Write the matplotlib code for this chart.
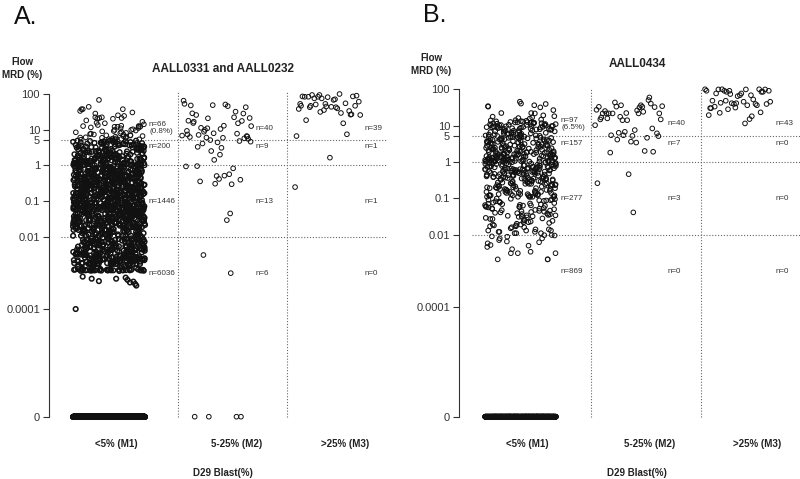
import numpy as np
import matplotlib
matplotlib.use("Agg")
import matplotlib.pyplot as plt
from matplotlib.ticker import NullLocator

plt.rcParams['font.family'] = ['Liberation Sans', 'DejaVu Sans']

W, H = 800, 479
ZERO = 1e-7   # where "0" sits on the log axis

# ---------------- panel A : AALL0331 and AALL0232 ----------------
# Flow MRD (%) values, per D29 marrow group
a_m1_above5 = [67, 43, 37, 37, 33, 37, 28, 24, 21, 25, 20, 20, 22, 22, 21, 15.5, 15, 12, 12, 12,
               11, 12.6, 12.5, 12, 10.2, 9.8, 10.9, 12.8, 14, 13.4, 7.9, 9.8, 8.6, 7.2, 6.5, 5.6,
               5.3, 6.1, 7.5, 8.1, 6.8, 5.9, 5.4, 6.3, 9.1, 7.0, 5.2, 5.8, 6.6, 8.4, 5.5, 6.0, 7.7,
               5.1, 9.4, 6.9, 5.7, 8.9, 6.2, 5.35, 7.3, 5.05, 11.5, 18, 16.5, 30]
a_m1_1to5 = [
    4.8, 1.2, 2.3, 1.05, 3.4, 1.6, 2.9, 1.1, 4.1, 1.4, 2.0, 1.3, 3.7, 1.8, 1.02, 2.6, 4.5, 1.5, 1.15, 2.2,
    1.7, 3.1, 1.25, 4.9, 2.4, 1.08, 1.9, 3.9, 1.35, 2.7, 1.12, 4.3, 1.55, 2.1, 1.01, 3.3, 1.45, 2.5, 1.75, 4.7,
    1.03, 2.8, 1.65, 3.6, 1.22, 2.05, 4.4, 1.38, 1.95, 3.0, 1.18, 2.35, 1.06, 4.0, 1.48, 2.65, 1.28, 3.5, 1.85, 4.6,
    1.09, 2.15, 3.8, 1.32, 1.58, 2.95, 1.04, 4.2, 1.72, 2.45, 1.14, 3.2, 1.42, 1.88, 4.95, 1.24, 2.55, 1.07, 3.45, 1.62,
    2.25, 1.16, 4.05, 1.36, 2.75, 1.52, 1.01, 3.65, 1.82, 2.12, 1.27, 4.55, 1.11, 2.38, 1.68, 3.15, 1.44, 1.92, 4.25, 1.19,
    2.85, 1.06, 3.35, 1.56, 2.02, 1.31, 4.75, 1.78, 1.13, 2.62, 1.41, 3.95, 1.23, 2.18, 1.64, 3.05, 1.02, 4.35, 1.49, 2.48,
    1.17, 3.75, 1.87, 1.29, 2.28, 4.15, 1.05, 1.61, 2.92, 1.34, 3.55, 1.09, 2.08, 1.74, 4.85, 1.21, 2.58, 1.46, 3.25, 1.96,
    1.03, 2.32, 1.54, 4.45, 1.26, 2.78, 1.81, 3.12, 1.12, 1.66, 2.42, 3.85, 1.37, 1.04, 2.22, 4.65, 1.59, 2.98, 1.19, 1.91,
    3.42, 1.08, 1.71, 2.52, 1.33, 4.08, 1.15, 2.68, 1.47, 3.62, 1.01, 1.84, 2.14, 1.25, 4.28, 1.57, 2.88, 1.39, 3.18, 1.07,
    1.98, 4.92, 1.43, 2.36, 1.14, 3.72, 1.69, 1.02, 2.72, 1.28, 4.18, 1.53, 2.04, 1.11, 3.38, 1.77, 2.58, 1.35, 1.06, 3.92]
a_m1_001to1 = [
    .35, .042, .81, .013, .21, .067, .15, .029, .52, .011, .094, .27, .018, .63, .038, .12, .074, .44, .023, .97,
    .056, .19, .016, .71, .031, .11, .048, .33, .014, .88, .062, .24, .021, .41, .083, .13, .035, .58, .019, .17,
    .026, .92, .045, .29, .012, .65, .078, .16, .033, .47, .015, .22, .088, .39, .025, .74, .051, .14, .017, .55,
    .37, .069, .18, .011, .84, .028, .25, .059, .43, .013, .11, .036, .68, .021, .31, .092, .16, .044, .77, .019,
    .014, .53, .072, .23, .032, .96, .047, .13, .012, .36, .085, .61, .024, .19, .057, .45, .016, .28, .039, .12,
    .79, .027, .15, .064, .34, .011, .49, .098, .21, .034, .72, .018, .26, .053, .14, .042, .87, .022, .38, .076,
    .13, .046, .59, .015, .32, .081, .17, .029, .66, .012, .24, .061, .42, .037, .11, .094, .54, .02, .3, .071,
    .023, .83, .055, .2, .014, .39, .089, .15, .031, .62, .017, .27, .049, .93, .026, .12, .066, .46, .013, .22,
    .48, .035, .18, .075, .29, .011, .69, .043, .14, .021, .57, .086, .33, .016, .11, .052, .76, .028, .25, .063,
    .016, .41, .097, .16, .038, .64, .024, .35, .058, .13, .012, .51, .079, .23, .045, .89, .019, .31, .068, .17,
    .73, .03, .12, .054, .44, .015, .21, .083, .37, .022, .95, .041, .15, .011, .28, .073, .56, .034, .19, .047,
    .026, .67, .062, .14, .018, .34, .091, .26, .013, .47, .039, .8, .027, .11, .058, .42, .02, .18, .077, .6,
    .11, .049, .38, .017, .24, .087, .53, .032, .16, .012, .71, .064, .29, .023, .13, .044, .91, .036, .2, .081,
    .019, .45, .07, .22, .014, .58, .037, .12, .095, .32, .025, .75, .051, .17, .011, .39, .066, .27, .029, .86,
    .61, .033, .15, .076, .27, .012, .49, .056, .19, .043, .82, .021, .36, .084, .13, .017, .55, .031, .23, .069,
    .045, .24, .018, .7, .039, .11, .093, .43, .026, .16, .062, .3, .014, .64, .048, .2, .081, .52, .022, .14,
    .31, .072, .12, .028, .57, .015, .26, .054, .85, .035, .17, .011, .4, .089, .21, .041, .67, .024, .13, .059,
    .017, .5, .083, .18, .033, .76, .046, .23, .012, .35, .071, .14, .027, .59, .019, .44, .097, .16, .052, .28,
    .94, .038, .21, .065, .11, .023, .46, .078, .32, .014, .63, .043, .15, .031, .25, .091, .72, .018, .37, .057,
    .13, .029, .54, .068, .19, .011, .42, .086, .27, .048, .79, .016, .34, .061, .12, .036, .6, .025, .22, .074,
    .047, .83, .02, .16, .055, .38, .013, .25, .095, .49, .034, .11, .067, .29, .021, .68, .042, .18, .088, .53,
    .024, .33, .079, .14, .037, .92, .015, .21, .058, .45, .028, .12, .073, .61, .018, .26, .049, .17, .011, .4,
    .65, .031, .13, .084, .3, .019, .56, .044, .23, .012, .36, .069, .15, .026, .77, .053, .2, .039, .11, .093,
    .014, .47, .062, .18, .027, .71, .035, .24, .081, .14, .022, .52, .046, .32, .016, .11, .075, .43, .03, .87,
    .2, .057, .39, .013, .27, .098, .15, .033, .62, .021, .12, .066, .48, .041, .17, .011, .34, .084, .25, .029,
    .073, .16, .025, .55, .048, .22, .015, .81, .036, .13, .092, .41, .019, .28, .063, .11, .044, .69, .023, .19,
    .38, .017, .26, .087, .12, .032, .58, .054, .21, .013, .45, .071, .14, .039, .96, .027, .31, .059, .16, .02,
    .052, .74, .028, .15, .079, .35, .012, .24, .045, .63, .018, .11, .096, .29, .034, .5, .067, .18, .024, .42,
    .13, .041, .85, .064, .2, .016, .37, .088, .26, .03, .14, .055, .57, .021, .33, .077, .12, .043, .73, .011,
    .026, .44, .069, .17, .038, .9, .014, .23, .083, .51, .031, .12, .061, .3, .019, .66, .047, .21, .094, .15,
    .58, .022, .27, .075, .13, .035, .4, .011, .19, .057, .78, .028, .34, .089, .16, .042, .24, .015, .49, .065,
    .037, .14, .092, .32, .017, .54, .049, .22, .026, .71, .063, .11, .033, .43, .081, .18, .012, .28, .054, .97,
    .21, .07, .46, .013, .29, .044, .15, .085, .6, .024, .36, .058, .12, .019, .82, .039, .25, .072, .17, .031,
    .016, .39, .061, .11, .028, .67, .047, .2, .098, .31, .021, .55, .036, .14, .078, .48, .012, .23, .052, .74,
    .33, .029, .16, .087, .52, .014, .26, .064, .41, .034, .12, .018, .63, .045, .19, .093, .37, .023, .13, .069]
a_m1_below001 = [
    .0045, .0021, .0078, .0032, .0018, .0059, .0026, .0093, .0038, .0019, .0066, .0024, .0051, .0029, .0084, .0035, .0017, .0072, .0042, .0022,
    .0055, .0027, .0097, .0033, .0019, .0062, .0041, .0023, .0088, .0036, .0018, .0049, .0028, .0075, .0031, .0021, .0068, .0044, .0025, .0091,
    .0034, .0018, .0057, .0026, .0081, .0039, .0022, .0063, .0047, .0019, .0071, .0029, .0053, .0024, .0095, .0037, .0017, .0061, .0043, .0027,
    .0087, .0032, .0021, .0058, .0035, .0018, .0076, .0046, .0025, .0064, .0031, .0019, .0052, .0083, .0028, .0039, .0022, .0069, .0048, .0026,
    .0019, .0073, .0036, .0023, .0094, .0041, .0027, .0056, .0018, .0065, .0033, .0021, .0079, .0045, .0029, .0052, .0017, .0086, .0038, .0024,
    .0061, .0028, .0043, .0019, .0077, .0034, .0022, .0098, .0049, .0026, .0067, .0031, .0018, .0055, .0039, .0023, .0082, .0044, .0027, .0059,
    .0021, .0089, .0037, .0025, .0063, .0018, .0047, .0032, .0074, .0022, .0054, .0029, .0092, .0041, .0019, .0068, .0035, .0024, .0057, .0028,
    .0042, .0017, .0071, .0033, .0026, .0085, .0048, .0021, .0062, .0036, .0019, .0078, .0044, .0027, .0051, .0023, .0096, .0039, .0018, .0066,
    .0031, .0058, .0022, .0081, .0045, .0019, .0069, .0034, .0025, .0053, .0017, .0087, .0038, .0028, .0064, .0021, .0046, .0032, .0075, .0023,
    .0018, .0052, .0029, .0093, .0041, .0024, .0067, .0035, .0019, .0079, .0047, .0026, .0059, .0021, .0084, .0037, .0023, .0056, .0031, .0018,
    .0072, .0039, .0022, .0061, .0027, .0048, .0019, .0088, .0033, .0025, .0065, .0042, .0018, .0076, .0036, .0021, .0054, .0029, .0097, .0044,
    .0026, .0019, .0063, .0038, .0023, .0082, .0049, .0028, .0057, .0017, .0071, .0034, .0022, .0091, .0043, .0026, .0068, .0031, .0019, .0053,
    .0015, .0014, .0016, .0015, .0014, .0016,
    .0012, .0013, .00118, .00125, .0012, .00122, .00128, .0012, .00115, .0013, .00121, .00126, .0012, .00119,
    .00124, .0013, .0012, .00117, .00127, .00123, .0012, .00129, .0012, .00116, .00125, .0012, .00122, .0013,
    .0012, .00118, .00124, .0012, .00126, .00121, .0012, .0013, .00119, .00123, .0012, .00127,
    .0008, .0007, .00075, .00055, .00045, .0006, .00065, .0005, .0007, .00058, .0001]
a_m1_zero_count = 5000

a_m2_above5 = [52, 50, 48, 64, 47, 45, 42, 31.6, 28.4, 20.6, 17.4, 17.6, 21, 22, 28, 25.5, 16.6, 15.2,
               15, 12.8, 10.9, 12.5, 9.8, 9.2, 10.4, 11.2, 8.7, 7.9, 6.4, 6.2, 6.8, 6.0, 5.9, 7.1,
               7.3, 5.5, 6.6, 7.7, 5.1, 5.7]
a_m2_1to5 = [4.6, 3.1, 3.3, 4.1, 4.4, 2.53, 1.43, 4.8, 2.0]
a_m2_001to1 = [0.96, 0.94, 0.83, 0.57, 0.52, 0.40, 0.36, 0.51, 0.30, 0.31, 0.42, 0.030, 0.046]
a_m2_below001 = [0.0032, 0.001]
a_m2_zero_count = 4

a_m3_above5 = [98, 82, 92, 88, 82, 74, 84, 84, 80, 92, 67, 82, 74, 54, 43, 39, 52, 46, 37.5, 42,
               31, 25.5, 33, 26.7, 52, 46, 42, 46, 26, 18.3, 15, 7.4, 6.6, 60, 70, 35, 44, 29, 50]
a_m3_1to5 = [1.65]
a_m3_001to1 = [0.25]

a_counts = [["n=66\n(0.8%)", "n=200", "n=1446", "n=6036"],
            ["n=40", "n=9", "n=13", "n=6"],
            ["n=39", "n=1", "n=1", "n=0"]]

# ---------------- panel B : AALL0434 ----------------
b_m1_above5 = [39, 36, 33, 34, 45, 40, 31.5, 21.5, 22, 19, 22, 16.7, 26.5, 18,
               14, 12.5, 11, 13.5, 10.5, 9.8, 12, 8.7, 11.5, 10.2, 9.2, 7.8, 13, 10.8, 8.2, 6.5, 12.2, 9.5, 7.1, 5.6,
               11.8, 10, 8.9, 6.8, 5.3, 14.5, 9.1, 7.4, 6.1, 10.6, 5.9, 8.4, 12.8, 7.6, 5.4, 9.7, 6.3, 11.2, 8.1, 5.15,
               6.9, 10.4, 7.3, 5.7, 13.2, 8.6, 6.6, 9.4, 5.2, 11.6, 7.9, 6.2, 10.1, 5.5, 8.3, 12.4, 6.7, 9.0, 5.8, 7.2,
               15.5, 10.9, 6.4, 8.8, 5.35, 11.3, 7.5, 6.0, 9.3, 5.05, 13.8, 8.0, 6.95, 10.3, 5.65, 7.7, 12.1, 9.6, 6.15, 17.5,
               8.5, 11.9, 16]
b_m1_1to5 = [
    4.7, 1.3, 2.4, 1.1, 3.6, 1.7, 2.9, 1.05, 4.2, 1.5, 2.1, 1.2, 3.9, 1.85, 1.02, 2.7, 4.5, 1.4, 1.15, 2.3,
    1.65, 3.2, 1.25, 4.9, 2.5, 1.08, 1.95, 3.7, 1.35, 2.8, 1.12, 4.35, 1.55, 2.15, 1.01, 3.4, 1.45, 2.6, 1.75, 4.6,
    1.04, 2.85, 1.6, 3.5, 1.22, 2.05, 4.4, 1.38, 1.9, 3.05, 1.18, 2.35, 1.06, 4.05, 1.48, 2.65, 1.28, 3.3, 1.8, 4.8,
    1.09, 2.2, 3.85, 1.32, 1.58, 2.95, 1.03, 4.15, 1.72, 2.45, 1.14, 3.15, 1.42, 1.88, 4.95, 1.24, 2.55, 1.07, 3.45, 1.62,
    2.25, 1.16, 4.0, 1.36, 2.75, 1.52, 1.01, 3.65, 1.82, 2.12, 1.27, 4.55, 1.11, 2.38, 1.68, 3.1, 1.44, 1.92, 4.25, 1.19,
    2.9, 1.06, 3.35, 1.56, 2.02, 1.31, 4.75, 1.78, 1.13, 2.62, 1.41, 3.95, 1.23, 2.18, 1.64, 3.0, 1.02, 4.3, 1.49, 2.48,
    1.17, 3.75, 1.87, 1.29, 2.28, 4.1, 1.05, 1.61, 2.92, 1.34, 3.55, 1.09, 2.08, 1.74, 4.85, 1.21, 2.58, 1.46, 3.25, 1.96,
    1.03, 2.32, 1.54, 4.45, 1.26, 2.78, 1.81, 3.12, 1.12, 1.66, 2.42, 3.8, 1.37, 1.04, 2.22, 4.65, 1.59]
b_m1_001to1 = [
    .85, .32, .56, .14, .71, .23, .41, .11, .93, .28, .62, .17, .47, .36, .12, .79, .25, .52, .19,
    .66, .13, .38, .88, .21, .45, .15, .58, .31, .74, .11, .27, .97, .43, .18, .64, .34, .12, .5,
    .22, .81, .16, .39, .69, .26, .13, .54, .95, .3, .46, .19, .77, .12, .35, .6, .24, .89, .42,
    .14, .57, .33, .72, .2, .48, .11, .83, .29, .63, .17, .4, .91, .25, .53, .15, .68, .37, .12,
    .76, .23, .44, .13, .59, .31, .86, .18, .49, .27, .11, .65, .38, .98, .21, .55, .16, .73, .34,
    .12, .47, .82, .26, .61, .14, .36, .7, .19, .52, .29, .94, .11, .42, .67, .23, .15, .58, .8,
    .32, .17, .75, .41, .13, .56, .24, .87, .35, .64, .12, .28, .5, .2, .78, .45, .16, .62, .99,
    .27, .9, .15, .53, .37, .11, .69, .22, .46, .84, .18, .33, .6, .13, .4, .74, .26, .57, .19,
    .63, .12, .43, .79, .24, .51, .16, .35, .92, .29, .14, .66, .39, .21, .55, .11, .71, .3, .48,
    .18, .54, .96, .31, .13, .44, .72, .25, .61, .15, .38, .85, .2, .5, .12, .67, .34, .77, .23,
    .085, .032, .056, .014, .071, .023, .041, .011, .093, .028, .062, .017, .047, .036, .012, .079, .025, .052, .019, .066,
    .013, .038, .088, .021, .045, .015, .058, .031, .074, .011, .027, .097, .043, .018, .064, .034, .012, .05, .022, .081,
    .016, .039, .069, .026, .013, .054, .095, .03, .046, .019, .077, .012, .035, .06, .024, .089, .042, .014, .057, .033,
    .072, .02, .048, .017, .083, .029, .063, .011, .037, .091, .053, .016, .068, .034, .022, .076, .044, .013, .059, .027,
    .098, .051, .018, .065, .031, .087, .04]
b_m1_below001 = [0.0079, 0.0097, 0.0071, 0.0040, 0.0046, 0.0052, 0.0062, 0.0034, 0.0031, 0.0098, 0.005,
                 0.0031, 0.0079, 0.009, 0.0095, 0.0031, 0.0021, 0.0021, 0.0021, 0.0088, 0.0065, 0.0058]
b_m1_zero_count = 847

b_m2_above5 = [36, 40, 21.5, 21.5, 14, 10.2, 6.3, 7.5, 14.7, 17.4, 32.6, 36, 21.5, 16.6, 50, 32, 33, 31.5,
               25, 21.5, 23.8, 34, 43, 59, 32.6, 26, 22, 15.7, 14.7, 14, 21.5, 27, 21.5, 6.7, 8.3, 6.1,
               5.4, 5.1, 5.2, 5.4]
b_m2_1to5 = [4.1, 3.6, 3.4, 2.0, 1.9, 4.6, 1.8]
b_m2_001to1 = [0.46, 0.26, 0.041]

b_m3_above5 = [98, 90, 84, 76, 73, 68, 64, 52, 48, 90, 98, 99, 90, 99, 76, 99, 68, 84, 90, 84,
               98, 45, 39, 30, 30, 33, 23, 41, 31, 36, 28, 41, 36, 45, 22.3, 19.3, 18, 48, 39, 39,
               42, 15, 11.4]

b_counts = [["n=97\n(6.5%)", "n=157", "n=277", "n=869"],
            ["n=40", "n=7", "n=3", "n=0"],
            ["n=43", "n=0", "n=0", "n=0"]]

groups = ["<5% (M1)", "5-25% (M2)", ">25% (M3)"]
count_levels = [11, 3.3, 0.1, 0.001]   # where the n= labels sit


def jitter(n, center, half):
    # golden-ratio slots, handed out in a scrambled order so x does not follow list order
    k = np.arange(n) + 1.0
    h = (np.sin(k * 12.9898 + 78.233) * 43758.5453) % 1.0
    slot = np.argsort(np.argsort(h))
    u = (slot * 0.6180339887 + 0.37) % 1.0
    return center + half * (2 * u - 1)


def draw_group(ax, center, half, bands, zeros=0, band_lw=None):
    if band_lw is None:
        band_lw = [0.7] * len(bands)
    vals = np.concatenate([np.asarray(b, float) for b in bands] + [np.full(zeros, ZERO)])
    lws = np.concatenate([np.full(len(b), w) for b, w in zip(bands, band_lw)] + [np.full(zeros, 0.7)])
    ax.scatter(jitter(len(vals), center, half), vals, s=11, marker='o',
               facecolors='none', edgecolors='#111111', linewidths=lws, zorder=3)


def setup_axes(rect, hline_x, vlines_x):
    ax = fig.add_axes(rect)
    ax.set_yscale('log')
    ax.set_ylim(10 ** -7.231, 10 ** 2.242)
    ax.set_xlim(0, 341)
    for s in ['top', 'right', 'bottom']:
        ax.spines[s].set_visible(False)
    ax.spines['left'].set_bounds(ZERO, 100)
    ax.spines['left'].set_color('#333333')
    ax.spines['left'].set_linewidth(0.8)
    ax.set_xticks([])
    ax.set_yticks([ZERO, 1e-4, 1e-2, 0.1, 1, 5, 10, 100])
    ax.set_yticklabels(["0", "0.0001", "0.01", "0.1", "1", "5", "10", "100"])
    ax.yaxis.set_minor_locator(NullLocator())
    ax.tick_params(axis='y', length=4.5, width=0.8, color='#333333', labelsize=8,
                   labelcolor='#333333', pad=2)
    ax.patch.set_alpha(0)
    dot = dict(color='#666666', linewidth=0.8, linestyle=(0, (1, 1.6)), zorder=2)
    for yv in [5, 1, 0.01]:
        ax.plot(hline_x, [yv, yv], **dot)
    for xv in vlines_x:
        ax.plot([xv, xv], [ZERO, 110], **dot)
    return ax


def put_counts(ax, xs, labels):
    for x, col in zip(xs, labels):
        for yv, s in zip(count_levels, col):
            ax.text(x, yv, s, fontsize=5.8, color='#333333', ha='left', va='center',
                    linespacing=1.15)


fig = plt.figure(figsize=(W / 100, H / 100), dpi=100)

# panel A: axes from x=49..390 px, y=85..425 px
ax_a = setup_axes([49 / W, 1 - 425 / H, 341 / W, 340 / H], [12, 337], [129, 238])
draw_group(ax_a, 60, 36, [a_m1_above5, a_m1_1to5, a_m1_001to1, a_m1_below001], a_m1_zero_count,
           band_lw=[0.7, 1.0, 1.1, 1.1])
draw_group(ax_a, 168, 35, [a_m2_above5, a_m2_1to5, a_m2_001to1, a_m2_below001], a_m2_zero_count)
draw_group(ax_a, 279, 33, [a_m3_above5, a_m3_1to5, a_m3_001to1])
put_counts(ax_a, [100, 207, 316], a_counts)

# panel B: axes from x=459..800 px, y=80.3..425.1 px
ax_b = setup_axes([459 / W, 1 - 425.1 / H, 341 / W, 344.8 / H], [12.7, 341], [131.7, 241.7])
draw_group(ax_b, 61.5, 35.5, [b_m1_above5, b_m1_1to5, b_m1_001to1, b_m1_below001], b_m1_zero_count,
           band_lw=[0.75, 0.8, 0.75, 0.7])
draw_group(ax_b, 170, 34, [b_m2_above5, b_m2_1to5, b_m2_001to1])
draw_group(ax_b, 279, 33, [b_m3_above5])
put_counts(ax_b, [102, 209, 317], b_counts)


def ftext(x, y, s, **kw):
    fig.text(x / W, 1 - y / H, s, **kw)


bold = dict(fontweight='bold', color='#222222', ha='center', va='center')

ftext(14, 17, "A.", fontsize=18, ha='left', va='center', color='#111111')
ftext(423, 15, "B.", fontsize=18, ha='left', va='center', color='#111111')

ftext(22, 68.5, "Flow\nMRD (%)", fontsize=7, linespacing=1.35, **bold)
ftext(431, 64.5, "Flow\nMRD (%)", fontsize=7, linespacing=1.35, **bold)

ftext(223, 69, "AALL0331 and AALL0232", fontsize=8.5, **bold)
ftext(637, 64, "AALL0434", fontsize=8.5, **bold)

for x, g in zip([116, 237, 345], groups):
    ftext(x, 444, g, fontsize=7, **bold)
for x, g in zip([527, 650, 757], groups):
    ftext(x, 444, g, fontsize=7, **bold)

ftext(223, 473, "D29 Blast(%)", fontsize=7, **bold)
ftext(637, 473, "D29 Blast(%)", fontsize=7, **bold)

fig.savefig("out.png", dpi=100)
